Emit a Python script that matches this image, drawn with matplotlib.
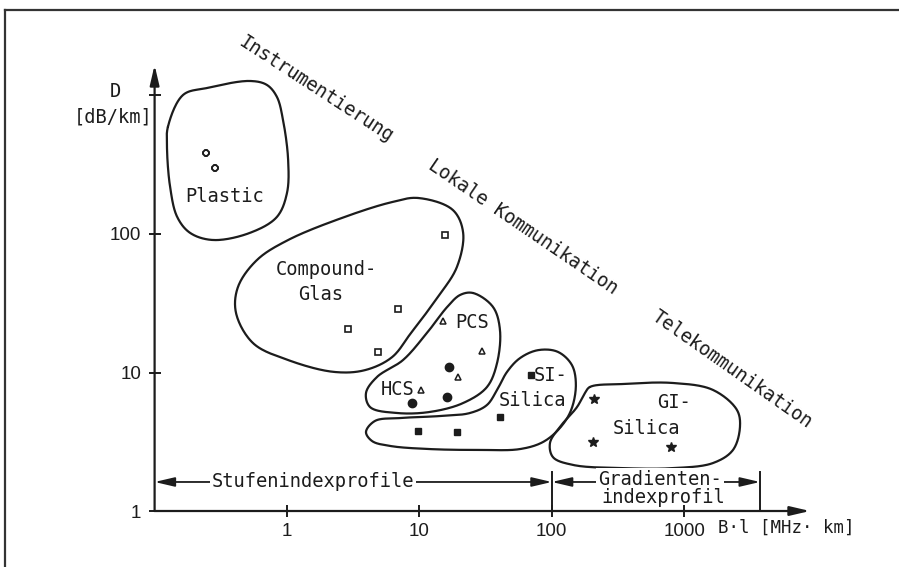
import numpy as np
import matplotlib
matplotlib.use("Agg")
import matplotlib.pyplot as plt
from matplotlib.lines import Line2D

# ---------------- data ----------------
x_ticks = [1, 10, 100, 1000]
x_tick_labels = ["1", "10", "100", "1000"]
y_ticks = [1, 10, 100, 1000]
y_tick_labels = ["1", "10", "100", ""]

# measured fibres: bandwidth-length product B·l [MHz·km], attenuation D [dB/km]
plastic_bl = [0.244, 0.286]
plastic_d = [385, 300]
compound_bl = [15.6, 6.89, 2.89, 4.87]
compound_d = [98.4, 28.7, 20.6, 14.1]
pcs_bl = [15.1, 29.7, 19.6, 10.3]
pcs_d = [23.5, 14.3, 9.28, 7.48]
hcs_bl = [8.79, 16.2, 16.7]
hcs_d = [6.02, 6.65, 11.0]
si_bl = [9.76, 19.2, 40.6, 69.6]
si_d = [3.78, 3.72, 4.77, 9.59]
gi_bl = [208, 205, 795]
gi_d = [6.44, 3.15, 2.90]

# region outlines (B·l, D)
plastic_outline_bl = [0.126, 0.164, 0.249, 0.526, 0.706, 0.84, 0.933, 1.02, 1.0, 0.84, 0.526, 0.276, 0.185, 0.148, 0.131, 0.124]
plastic_outline_d = [593, 1009, 1133, 1273, 1191, 975, 666, 342, 198, 133, 102, 90.5, 102, 133, 218, 425]
compound_outline_bl = [9.76, 17.9, 21.4, 19.2, 13.8, 8.64, 6.21, 3.88, 2.26, 1.02, 0.554, 0.412, 0.426, 0.593, 1.02, 2.74, 6.21]
compound_outline_d = [182, 149, 102, 57.8, 35.1, 19.3, 12.9, 10.4, 10.1, 12.3, 16.3, 26.9, 41.4, 64.9, 90.5, 133, 170]
pcs_outline_bl = [25.4, 36.0, 40.6, 38.6, 32.4, 21.4, 12.0, 6.78, 4.24, 3.95, 4.78, 7.52, 11.4, 16.2, 20.3]
pcs_outline_d = [37.5, 29.7, 20.3, 11.7, 7.86, 6.02, 5.19, 5.10, 5.63, 7.11, 9.28, 12.3, 19.3, 29.7, 36.3]
si_outline_bl = [3.95, 4.62, 7.14, 14.3, 24.1, 32.4, 38.6, 45.9, 57.5, 78.7, 111, 142, 152, 140, 115, 85.9, 57.5, 28.7, 12.0, 6.0, 4.39]
si_outline_d = [3.72, 4.47, 4.69, 4.85, 5.10, 5.83, 7.48, 10.1, 12.7, 14.5, 14.1, 11.3, 8.12, 5.36, 3.97, 3.15, 2.80, 2.76, 2.80, 2.95, 3.20]
gi_outline_bl = [194, 345, 823, 1651, 2504, 2638, 2337, 1651, 823, 345, 145, 102, 96.9, 115, 155, 178]
gi_outline_d = [7.86, 8.26, 8.40, 7.48, 5.36, 4.04, 2.76, 2.22, 2.04, 2.04, 2.15, 2.45, 3.10, 4.04, 5.63, 7.11]

INK = "#1c1c1c"
MONO = "DejaVu Sans Mono"
SANS = "Liberation Sans"


def closed_spline(xs, ys, n=24, alpha=0.5):
    """Centripetal Catmull-Rom closed curve through outline points (log space)."""
    P = np.column_stack([np.log10(xs), np.log10(ys)])
    N = len(P)
    segs = []
    for i in range(N):
        p0, p1, p2, p3 = P[(i - 1) % N], P[i], P[(i + 1) % N], P[(i + 2) % N]
        t0 = 0.0
        t1 = t0 + np.linalg.norm(p1 - p0) ** alpha
        t2 = t1 + np.linalg.norm(p2 - p1) ** alpha
        t3 = t2 + np.linalg.norm(p3 - p2) ** alpha
        t = np.linspace(t1, t2, n, endpoint=False)[:, None]
        A1 = (t1 - t) / (t1 - t0) * p0 + (t - t0) / (t1 - t0) * p1
        A2 = (t2 - t) / (t2 - t1) * p1 + (t - t1) / (t2 - t1) * p2
        A3 = (t3 - t) / (t3 - t2) * p2 + (t - t2) / (t3 - t2) * p3
        B1 = (t2 - t) / (t2 - t0) * A1 + (t - t0) / (t2 - t0) * A2
        B2 = (t3 - t) / (t3 - t1) * A2 + (t - t1) / (t3 - t1) * A3
        segs.append((t2 - t) / (t2 - t1) * B1 + (t - t1) / (t2 - t1) * B2)
    segs.append(P[:1])
    C = np.vstack(segs)
    return 10 ** C[:, 0], 10 ** C[:, 1]


fig = plt.figure(figsize=(8.99, 5.67), dpi=100)
ax = fig.add_axes([0, 0, 1, 1])
ax.set_xscale("log")
ax.set_yscale("log")
ax.set_xlim(10 ** -2.1677, 10 ** 4.6224)
ax.set_ylim(10 ** -0.4043, 10 ** 3.6895)
ax.patch.set_visible(False)

for s in ax.spines.values():
    s.set_visible(False)
ax.spines["left"].set_position(("data", 0.1))
ax.spines["bottom"].set_position(("data", 1))

ax.set_xticks(x_ticks)
ax.set_xticklabels(x_tick_labels)
ax.set_yticks(y_ticks)
ax.set_yticklabels(y_tick_labels)
ax.minorticks_off()
ax.tick_params(axis="both", direction="inout", length=8.5, width=1.4, color=INK,
               labelsize=13.5, labelcolor=INK)
ax.tick_params(axis="x", pad=4.5)
ax.tick_params(axis="y", pad=5.5)
for lab in ax.get_xticklabels() + ax.get_yticklabels():
    lab.set_family(SANS)

# axes with arrows
arrow_kw = dict(arrowstyle="-|>,head_length=0.6,head_width=0.14", lw=1.6, color=INK,
                shrinkA=0, shrinkB=0, mutation_scale=20)
ax.annotate("", xy=(10 ** 3.95, 1), xytext=(0.1, 1), arrowprops=arrow_kw)
ax.annotate("", xy=(0.1, 10 ** 3.22), xytext=(0.1, 1), arrowprops=arrow_kw)

# region outlines
for bx, dy in [(plastic_outline_bl, plastic_outline_d),
               (compound_outline_bl, compound_outline_d),
               (pcs_outline_bl, pcs_outline_d),
               (si_outline_bl, si_outline_d),
               (gi_outline_bl, gi_outline_d)]:
    sx, sy = closed_spline(bx, dy)
    ax.plot(sx, sy, color=INK, lw=1.6, solid_capstyle="round")

# fibre points
ax.plot(plastic_bl, plastic_d, ls="none", marker="8", ms=5, mfc="white", mec=INK, mew=1.4)
ax.plot(compound_bl, compound_d, ls="none", marker="s", ms=4.5, mfc="white", mec=INK, mew=1.2)
ax.plot(pcs_bl, pcs_d, ls="none", marker="^", ms=5, mfc="white", mec=INK, mew=1.1)
ax.plot(hcs_bl, hcs_d, ls="none", marker="o", ms=6, mfc=INK, mec=INK)
ax.plot(si_bl, si_d, ls="none", marker="s", ms=5, mfc=INK, mec=INK)
ax.plot(gi_bl, gi_d, ls="none", marker="*", ms=7.5, mfc=INK, mec=INK)

tk = dict(family=MONO, fontsize=13.5, color=INK)
ax.text(0.340, 185, "Plastic", ha="center", va="center", **tk)
ax.text(2.0, 55.4, "Compound-", ha="center", va="center", **tk)
ax.text(1.81, 36.6, "Glas", ha="center", va="center", **tk)
ax.text(25.2, 23.0, "PCS", ha="center", va="center", **tk)
ax.text(6.83, 7.54, "HCS", ha="center", va="center", **tk)
ax.text(73.4, 9.59, "SI-", ha="left", va="center", **tk)
ax.text(72.1, 6.33, "Silica", ha="center", va="center", **tk)
ax.text(623, 6.07, "GI-", ha="left", va="center", **tk)
ax.text(519, 3.94, "Silica", ha="center", va="center", **tk)

# diagonal application areas
ax.text(1.66, 1114, "Instrumentierung", rotation=-33, rotation_mode="anchor",
        ha="center", va="center", **tk)
ax.text(60.6, 112, "Lokale Kommunikation", rotation=-34.3, rotation_mode="anchor",
        ha="center", va="center", **tk)
ax.text(2297, 10.6, "Telekommunikation", rotation=-35, rotation_mode="anchor",
        ha="center", va="center", **tk)

# axis labels
ax.text(0.0502, 1060, "D", ha="center", va="center", **tk)
ax.text(0.0485, 700, "[dB/km]", ha="center", va="center", **tk)
ax.text(1800, 0.753, "B·l [MHz· km]", ha="left", va="center", family=MONO,
        fontsize=12.5, color=INK)

# profile ranges
dbl = dict(arrowstyle="<|-|>,head_length=0.6,head_width=0.14", lw=1.3, color=INK,
           shrinkA=0, shrinkB=0, mutation_scale=20)
ax.annotate("", xy=(100, 1.62), xytext=(0.1, 1.62), arrowprops=dbl)
ax.annotate("", xy=(3740, 1.62), xytext=(100, 1.62), arrowprops=dbl)
ax.plot([100, 100], [1, 1.91], color=INK, lw=1.4)
ax.plot([3740, 3740], [1, 1.91], color=INK, lw=1.4)
box = dict(facecolor="white", edgecolor="none", pad=1.5)
ax.text(1.57, 1.62, "Stufenindexprofile", ha="center", va="center", bbox=box, zorder=5, **tk)
ax.text(657, 1.70, "Gradienten-", ha="center", va="center", bbox=box, zorder=5, **tk)
ax.text(692, 1.26, "indexprofil", ha="center", va="center", zorder=5, **tk)

# page frame
fig.add_artist(Line2D([5 / 899, 1], [1 - 9.5 / 567, 1 - 9.5 / 567], transform=fig.transFigure,
                      color="#333333", lw=1.6))
fig.add_artist(Line2D([5 / 899, 5 / 899], [0, 1 - 9.5 / 567], transform=fig.transFigure,
                      color="#333333", lw=1.6))

fig.savefig("out.png", dpi=100)
